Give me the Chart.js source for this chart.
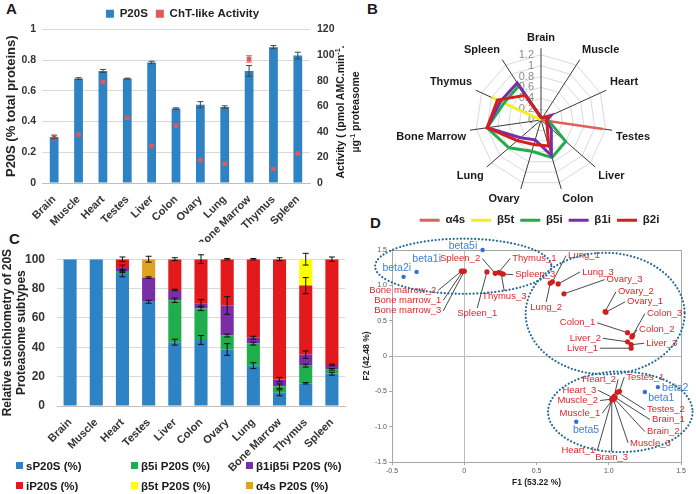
<!DOCTYPE html>
<html>
<head>
<meta charset="utf-8">
<script src="https://cdn.jsdelivr.net/npm/chart.js"></script>
<style>
    body {
        margin: 0;
        width: 696px;
        height: 494px;
        background: #ffffff;
        position: relative;
        overflow: hidden;
        font-family: "Liberation Sans", Arial, sans-serif;
        color: #1a1a1a;
    }
    canvas { position: absolute; }
    .tag { position: absolute; font-weight: bold; font-size: 15px; }
    .rot-title {
        position: absolute;
        width: 160px;
        text-align: center;
        font-weight: bold;
        font-size: 10.5px;
        line-height: 15px;
        transform: rotate(-90deg);
    }
    .rot-title sup { font-size: 7px; line-height: 0; }
    .legend-c { position: absolute; font-weight: bold; font-size: 11.5px; white-space: nowrap; }
    .legend-c i { display: inline-block; width: 7px; height: 7px; margin-right: 3px; vertical-align: 1px; }
</style>
</head>
<body>
<div class="tag" style="left:6px; top:0px;">A</div>
<div class="tag" style="left:367px; top:0px;">B</div>
<div class="tag" style="left:9px; top:230px;">C</div>
<div class="tag" style="left:370px; top:214px;">D</div>

<canvas id="chartA" width="365" height="242" style="left:0; top:0;"></canvas>
<div class="rot-title" style="left:268px; top:97px;">Activity ( (pmol AMC.min<sup>-1</sup>.<br>µg<sup>-1</sup> proteasome</div>

<canvas id="chartB" width="313" height="207" style="left:383px; top:29px;"></canvas>
<canvas id="chartC" width="350" height="254" style="left:0; top:240px;"></canvas>
<canvas id="chartD" width="334" height="262" style="left:362px; top:232px;"></canvas>

<div class="legend-c" style="left:16px; top:460px;"><i style="background:#2E83C5"></i>sP20S (%)</div>
<div class="legend-c" style="left:131px; top:460px;"><i style="background:#1FAE4B"></i>β5i P20S (%)</div>
<div class="legend-c" style="left:246px; top:460px;"><i style="background:#7A2EA5"></i>β1iβ5i P20S (%)</div>
<div class="legend-c" style="left:16px; top:480px;"><i style="background:#E3191C"></i>iP20S (%)</div>
<div class="legend-c" style="left:131px; top:480px;"><i style="background:#FFFF00"></i>β5t P20S (%)</div>
<div class="legend-c" style="left:246px; top:480px;"><i style="background:#E0A020"></i>α4s P20S (%)</div>

<script>
// ---- data ----
const tissues = ["Brain", "Muscle", "Heart", "Testes", "Liver", "Colon", "Ovary", "Lung", "Bone Marrow", "Thymus", "Spleen"];

// Panel A
const p20sLevel = [0.30, 0.68, 0.73, 0.68, 0.785, 0.485, 0.51, 0.495, 0.73, 0.885, 0.83];
const p20sErr = [0.012, 0.006, 0.01, 0.003, 0.008, 0.005, 0.02, 0.008, 0.035, 0.01, 0.022];
const chtActivity = [35, 38, 79, 51, 29, 45, 18, 15, 97, 11, 23];
const chtErr = [0, 0, 0, 0, 0, 0, 0, 0, 2.5, 0, 0];

// Panel B
const radarTicks = [0, 0.2, 0.4, 0.6, 0.8, 1, 1.2];
const a4sAct = [0, 0, 0, 1.15, 0, 0, 0, 0, 0, 0, 0];
const b5tAct = [0, 0, 0, 0, 0, 0, 0, 0, 0, 1.0, 0];
const b5iAct = [0.05, 0.05, 0.1, 0.15, 0.6, 0.72, 0.6, 0.78, 1.0, 0.75, 0.75];
const b1iAct = [0.05, 0.05, 0.2, 0.1, 0.25, 0.68, 0.38, 0.5, 1.0, 0.82, 0.81];
const b2iAct = [0.05, 0.05, 0.15, 0.1, 0.15, 0.5, 0.47, 0.58, 1.0, 0.88, 0.54];

// Panel C
const sP20S = [100, 100, 90, 71, 43.5, 45, 38.5, 27.5, 9, 15.5, 22];
const b5iP20S = [0, 0, 2, 0, 28.5, 21.5, 9.5, 15, 4.5, 12, 3];
const b1ib5iP20S = [0, 0, 2, 16.5, 7, 3.5, 20.5, 4, 4.5, 7.5, 3];
const iP20S = [0, 0, 6, 0, 21, 30, 31.5, 53.5, 82, 47, 72];
const b5tP20S = [0, 0, 0, 0, 0, 0, 0, 0, 0, 18, 0];
const a4sP20S = [0, 0, 0, 12.5, 0, 0, 0, 0, 0, 0, 0];
const sP20SErr = [0, 0, 2, 1, 2, 3, 4, 2, 2, 0.5, 1];
const b5iErr = [0, 0, 1, 0, 1.5, 1.5, 1, 1, 1.5, 1, 0.5];
const b1ib5iErr = [0, 0, 2, 0.5, 0.5, 2.5, 6, 1, 1.5, 2.5, 0.5];
const iP20SErr = [0, 0, 1.5, 0, 1, 3, 0.5, 0.5, 1, 5.5, 1.5];
const b5tErr = [0, 0, 0, 0, 0, 0, 0, 0, 0, 4, 0];
const a4sErr = [0, 0, 0, 2, 0, 0, 0, 0, 0, 0, 0];

// Panel D (PCA)
const obsNames = ["Bone marrow_1", "Bone marrow_2", "Bone marrow_3", "Spleen_1", "Spleen_2", "Spleen_3",
    "Thymus_1", "Thymus_3", "Lung_1", "Lung_2", "Lung_3", "Ovary_1", "Ovary_2", "Ovary_3",
    "Colon_1", "Colon_2", "Colon_3", "Liver_1", "Liver_2", "Liver_3", "Testes_1", "Testes_2",
    "Heart_1", "Heart_2", "Heart_3", "Muscle_1", "Muscle_2", "Muscle_3", "Brain_1", "Brain_2", "Brain_3"];
const obsF1 = [-0.01, -0.02, 0.0, 0.157, 0.214, 0.27, 0.237, 0.255, 0.61, 0.595, 0.65, 0.98, 0.975, 0.69,
    1.13, 1.16, 1.165, 1.155, 1.13, 1.155, 1.074, 1.06, 1.021, 1.037, 1.033, 1.033, 1.028, 1.033, 1.044, 1.037, 1.021];
const obsF2 = [1.2, 1.2, 1.2, 1.19, 1.17, 1.16, 1.18, 1.17, 1.05, 1.03, 1.02, 0.62, 0.63, 0.88,
    0.33, 0.27, 0.29, 0.11, 0.2, 0.16, -0.5, -0.514, -0.619, -0.571, -0.594, -0.6, -0.609, -0.619, -0.586, -0.6, -0.609];
const varNames = ["beta5i", "beta1i", "beta2i", "beta2", "beta1", "beta5"];
const varF1 = [0.127, -0.33, -0.42, 1.34, 1.25, 0.775];
const varF2 = [1.5, 1.19, 1.12, -0.44, -0.51, -0.93];

// label anchors for panel D (data units) and which side the text sits on
const obsLabelSpots = [
    [-0.145, 0.79, "w"], [-0.18, 0.93, "w"], [-0.145, 0.64, "w"], [0.09, 0.68, "s"], [0.124, 1.38, "w"], [0.339, 1.15, "e"],
    [0.318, 1.38, "e"], [0.277, 0.92, "s"], [0.705, 1.42, "e"], [0.567, 0.765, "s"], [0.802, 1.19, "e"],
    [1.113, 0.766, "e"], [1.05, 0.91, "e"], [0.971, 1.08, "e"], [0.92, 0.47, "w"], [1.196, 0.37, "e"], [1.25, 0.6, "e"],
    [0.94, 0.11, "w"], [0.96, 0.25, "w"], [1.245, 0.18, "e"], [1.107, -0.3, "e"], [1.25, -0.76, "e"],
    [0.92, -1.34, "w"], [1.065, -0.33, "w"], [0.927, -0.486, "w"], [0.955, -0.81, "w"], [0.94, -0.63, "w"],
    [1.134, -1.23, "e"], [1.286, -0.9, "e"], [1.25, -1.07, "e"], [1.02, -1.35, "s"]
];
const varLabelSpots = [[0.104, 1.56, "w"], [-0.373, 1.367, "e"], [-0.58, 1.25, "e"], [1.355, -0.46, "e"], [1.259, -0.594, "e"], [0.738, -1.05, "e"]];
// dotted cluster ellipses: centre x, centre y, radius x, radius y (data units)
const clusterEllipses = [[-0.007, 1.27, 0.61, 0.39], [0.975, 0.6, 0.55, 0.86], [1.08, -0.79, 0.5, 0.57]];

Chart.defaults.font.family = '"Liberation Sans", Arial, sans-serif';
Chart.defaults.color = "#262626";
Chart.defaults.animation = false;

// Error bars drawn from dataset.errors, at the top of each bar / point
const errorBars = {
    id: "errorBars",
    afterDatasetsDraw(chart, args, opts) {
        const ctx = chart.ctx;
        chart.data.datasets.forEach((ds, i) => {
            if (!ds.errors) return;
            const meta = chart.getDatasetMeta(i);
            const scale = chart.scales[meta.yAxisID];
            ctx.save();
            ctx.strokeStyle = ds.errorColor || opts.color || "#222";
            ctx.lineWidth = 1;
            meta.data.forEach((el, j) => {
                const e = ds.errors[j];
                if (!e || !ds.data[j]) return;
                const d = Math.abs(scale.getPixelForValue(0) - scale.getPixelForValue(e));
                const w = opts.cap || 3;
                ctx.beginPath();
                ctx.moveTo(el.x, el.y - d);
                ctx.lineTo(el.x, el.y + d);
                ctx.moveTo(el.x - w, el.y - d);
                ctx.lineTo(el.x + w, el.y - d);
                ctx.moveTo(el.x - w, el.y + d);
                ctx.lineTo(el.x + w, el.y + d);
                ctx.stroke();
            });
            ctx.restore();
        });
    }
};

// tick text without trailing zeros (1, 0.8 ... 0)
const plainTick = (v) => String(Number(v.toFixed(2)));

// ---- A: P20S level + ChT-like activity ----
new Chart(document.getElementById("chartA"), {
    type: "bar",
    data: {
        labels: tissues,
        datasets: [
            {
                label: "P20S",
                data: p20sLevel,
                errors: p20sErr,
                backgroundColor: "#2E83C5",
                barPercentage: 0.36,
                categoryPercentage: 1,
                yAxisID: "y",
                order: 1,
            },
            {
                type: "line",
                label: "ChT-like Activity",
                data: chtActivity,
                errors: chtErr,
                errorColor: "#E05B57",
                yAxisID: "y1",
                showLine: false,
                borderWidth: 0,
                backgroundColor: "#E05B57",
                borderColor: "#E05B57",
                pointStyle: "rect",
                pointRadius: 3.2,
                pointBorderWidth: 0,
                order: 0,
            },
        ],
    },
    options: {
        responsive: false,
        devicePixelRatio: 1,
        layout: { padding: { top: 0 } },
        plugins: {
            legend: {
                position: "top",
                labels: {
                    boxWidth: 8,
                    boxHeight: 8,
                    padding: 8,
                    font: { size: 11.5, weight: "bold" },
                    color: "#222",
                    sort: (a, b) => a.datasetIndex - b.datasetIndex,
                },
            },
            tooltip: { enabled: false },
            errorBars: { cap: 3, color: "#444" },
        },
        scales: {
            x: {
                grid: { display: false },
                border: { color: "#bfbfbf" },
                ticks: { autoSkip: false, minRotation: 45, maxRotation: 45, font: { size: 11, weight: "bold" }, color: "#333", padding: 2 },
                afterFit: (s) => { s.height = 59; },
            },
            y: {
                min: 0,
                max: 1,
                ticks: { stepSize: 0.2, font: { size: 10.5, weight: "bold" }, color: "#333", padding: 6, callback: plainTick },
                grid: { color: "#d9d9d9", drawTicks: false },
                border: { display: false },
                title: { display: true, text: "P20S (% total proteins)", font: { size: 13, weight: "bold" }, color: "#222", padding: { top: 4, bottom: 0 } },
                afterFit: (s) => { s.width = 42; },
            },
            y1: {
                position: "right",
                min: 0,
                max: 120,
                ticks: { stepSize: 20, font: { size: 10.5, weight: "bold" }, color: "#333", padding: 7 },
                grid: { display: false, drawTicks: false },
                border: { display: false },
                afterFit: (s) => { s.width = 55; },
            },
        },
    },
    plugins: [errorBars],
});

// ---- B: radar of immunoproteasome subunits ----
const radarTickLabels = {
    id: "radarTickLabels",
    beforeDatasetsDraw(chart) {
        const r = chart.scales.r;
        const ctx = chart.ctx;
        ctx.save();
        ctx.font = '11px "Liberation Sans", Arial, sans-serif';
        ctx.fillStyle = "#8c8c8c";
        ctx.textAlign = "right";
        ctx.textBaseline = "middle";
        radarTicks.forEach((v) => {
            ctx.fillText(String(v), r.xCenter - 7, r.yCenter - r.getDistanceFromCenterForValue(v));
        });
        ctx.restore();
    },
};

function radarSet(label, data, color, width, order) {
    return { label, data, borderColor: color, backgroundColor: color, borderWidth: width, order, fill: false };
}

new Chart(document.getElementById("chartB"), {
    type: "radar",
    data: {
        labels: tissues,
        datasets: [
            radarSet("α4s", a4sAct, "#E0605C", 2.5, 4),
            radarSet("β5t", b5tAct, "#F4EE20", 3, 3),
            radarSet("β5i", b5iAct, "#1FAE4B", 3, 2),
            radarSet("β1i", b1iAct, "#7A2EA5", 3, 1),
            radarSet("β2i", b2iAct, "#D21F1F", 3, 0),
        ],
    },
    options: {
        responsive: false,
        devicePixelRatio: 1,
        elements: { point: { radius: 0 }, line: { tension: 0 } },
        plugins: {
            legend: {
                position: "bottom",
                labels: {
                    boxWidth: 20,
                    boxHeight: 3,
                    padding: 6,
                    font: { size: 11.5, weight: "bold" },
                    color: "#222",
                    sort: (a, b) => a.datasetIndex - b.datasetIndex,
                    generateLabels: (chart) =>
                        Chart.defaults.plugins.legend.labels.generateLabels(chart).map((l) => Object.assign(l, { lineWidth: 0 })),
                },
            },
            tooltip: { enabled: false },
        },
        scales: {
            r: {
                min: 0,
                max: 1.32,
                ticks: { display: false, stepSize: 0.2 },
                grid: { circular: false, color: (c) => (c.tick && c.tick.value > 1.21 ? "transparent" : "#d9d9d9") },
                angleLines: { color: "#3a3a3a", lineWidth: 1 },
                pointLabels: { font: { size: 11, weight: "bold" }, color: "#1a1a1a", padding: 4 },
            },
        },
    },
    plugins: [radarTickLabels],
});

// ---- C: stacked subtype stoichiometry ----
function stackSet(label, data, errors, color) {
    return { label, data, errors, backgroundColor: color, barPercentage: 0.5, categoryPercentage: 1 };
}

new Chart(document.getElementById("chartC"), {
    type: "bar",
    data: {
        labels: tissues,
        datasets: [
            stackSet("sP20S (%)", sP20S, sP20SErr, "#2E83C5"),
            stackSet("β5i P20S (%)", b5iP20S, b5iErr, "#1FAE4B"),
            stackSet("β1iβ5i P20S (%)", b1ib5iP20S, b1ib5iErr, "#7A2EA5"),
            stackSet("iP20S (%)", iP20S, iP20SErr, "#E3191C"),
            stackSet("β5t P20S (%)", b5tP20S, b5tErr, "#FFFF00"),
            stackSet("α4s P20S (%)", a4sP20S, a4sErr, "#E0A020"),
        ],
    },
    options: {
        responsive: false,
        devicePixelRatio: 1,
        layout: { padding: { top: 19, right: 5 } },
        plugins: {
            legend: { display: false },
            tooltip: { enabled: false },
            errorBars: { cap: 3, color: "#111" },
        },
        scales: {
            x: {
                stacked: true,
                grid: { display: false },
                border: { color: "#bfbfbf" },
                ticks: { autoSkip: false, minRotation: 45, maxRotation: 45, font: { size: 11, weight: "bold" }, color: "#333", padding: 2 },
                afterFit: (s) => { s.height = 88; },
            },
            y: {
                stacked: true,
                min: 0,
                max: 100,
                ticks: { stepSize: 20, font: { size: 12, weight: "bold" }, color: "#333", padding: 12 },
                grid: { color: "#d9d9d9", drawTicks: false },
                border: { display: false },
                title: {
                    display: true,
                    text: ["Relative stoichiometry of 20S", "Proteasome subtypes"],
                    font: { size: 12, weight: "bold" },
                    color: "#222",
                    padding: { top: 0, bottom: 0 },
                },
                afterFit: (s) => { s.width = 57; },
            },
        },
    },
    plugins: [errorBars],
});

// ---- D: PCA biplot ----
function drawTag(ctx, text, x, y, side) {
    if (side === "e") {
        ctx.textAlign = "left"; ctx.textBaseline = "middle"; ctx.fillText(text, x + 2, y);
    } else if (side === "w") {
        ctx.textAlign = "right"; ctx.textBaseline = "middle"; ctx.fillText(text, x - 2, y);
    } else {
        ctx.textAlign = "center"; ctx.textBaseline = "top"; ctx.fillText(text, x, y + 1);
    }
}

const pcaDecor = {
    id: "pcaDecor",
    beforeDatasetsDraw(chart) {
        const { ctx, chartArea: a } = chart;
        const xs = chart.scales.x, ys = chart.scales.y;
        ctx.save();
        ctx.strokeStyle = "#a6a6a6";
        ctx.lineWidth = 1;
        ctx.strokeRect(a.left + 0.5, a.top + 0.5, a.right - a.left, a.bottom - a.top);
        // leader lines
        ctx.strokeStyle = "#1a1a1a";
        ctx.lineWidth = 0.8;
        obsNames.forEach((name, i) => {
            const [lx, ly] = obsLabelSpots[i];
            ctx.beginPath();
            ctx.moveTo(xs.getPixelForValue(lx), ys.getPixelForValue(ly));
            ctx.lineTo(xs.getPixelForValue(obsF1[i]), ys.getPixelForValue(obsF2[i]));
            ctx.stroke();
        });
        ctx.restore();
    },
    afterDatasetsDraw(chart) {
        const ctx = chart.ctx;
        const xs = chart.scales.x, ys = chart.scales.y;
        ctx.save();
        ctx.font = '9.5px "Liberation Sans", Arial, sans-serif';
        ctx.fillStyle = "#E0262A";
        obsNames.forEach((name, i) => {
            const [lx, ly, side] = obsLabelSpots[i];
            drawTag(ctx, name, xs.getPixelForValue(lx), ys.getPixelForValue(ly), side);
        });
        ctx.font = '10.5px "Liberation Sans", Arial, sans-serif';
        ctx.fillStyle = "#3F7FD8";
        varNames.forEach((name, i) => {
            const [lx, ly, side] = varLabelSpots[i];
            drawTag(ctx, name, xs.getPixelForValue(lx), ys.getPixelForValue(ly), side);
        });
        // dotted cluster ellipses
        ctx.strokeStyle = "#236A98";
        ctx.lineWidth = 2.2;
        ctx.lineCap = "round";
        ctx.setLineDash([0.01, 3.6]);
        clusterEllipses.forEach(([cx, cy, rx, ry]) => {
            const x0 = xs.getPixelForValue(cx), y0 = ys.getPixelForValue(cy);
            const rpx = Math.abs(xs.getPixelForValue(cx + rx) - x0);
            const rpy = Math.abs(ys.getPixelForValue(cy + ry) - y0);
            ctx.beginPath();
            ctx.ellipse(x0, y0, rpx, rpy, 0, 0, Math.PI * 2);
            ctx.stroke();
        });
        ctx.restore();
    },
};

const zeroGrid = (c) => (c.tick && c.tick.value === 0 ? "#bdbdbd" : "transparent");

new Chart(document.getElementById("chartD"), {
    type: "scatter",
    data: {
        datasets: [
            {
                label: "Observations",
                data: obsF1.map((x, i) => ({ x, y: obsF2[i] })),
                backgroundColor: "#D01F1F",
                pointRadius: 2.6,
                pointBorderWidth: 0,
                clip: false,
            },
            {
                label: "Variables",
                data: varF1.map((x, i) => ({ x, y: varF2[i] })),
                backgroundColor: "#2F6FD6",
                pointRadius: 2.2,
                pointBorderWidth: 0,
                clip: false,
            },
        ],
    },
    options: {
        responsive: false,
        devicePixelRatio: 1,
        layout: { padding: { top: 18, right: 15 } },
        plugins: { legend: { display: false }, tooltip: { enabled: false } },
        scales: {
            x: {
                min: -0.5,
                max: 1.5,
                ticks: { stepSize: 0.5, font: { size: 7 }, color: "#555", padding: 2 },
                grid: { color: zeroGrid, tickColor: "#a6a6a6", tickLength: 3 },
                border: { color: "#a6a6a6" },
                title: { display: true, text: "F1 (53.22 %)", font: { size: 8.5, weight: "bold" }, color: "#222", padding: { top: 0, bottom: 6 } },
                afterFit: (s) => { s.height = 32; },
            },
            y: {
                min: -1.5,
                max: 1.5,
                ticks: { stepSize: 0.5, font: { size: 7 }, color: "#555", padding: 2 },
                grid: { color: zeroGrid, tickColor: "#a6a6a6", tickLength: 3 },
                border: { color: "#a6a6a6" },
                title: { display: true, text: "F2 (42.48 %)", font: { size: 8.5, weight: "bold" }, color: "#222", padding: { top: 0, bottom: 0 } },
                afterFit: (s) => { s.width = 30; },
            },
        },
    },
    plugins: [pcaDecor],
});
</script>
</body>
</html>
